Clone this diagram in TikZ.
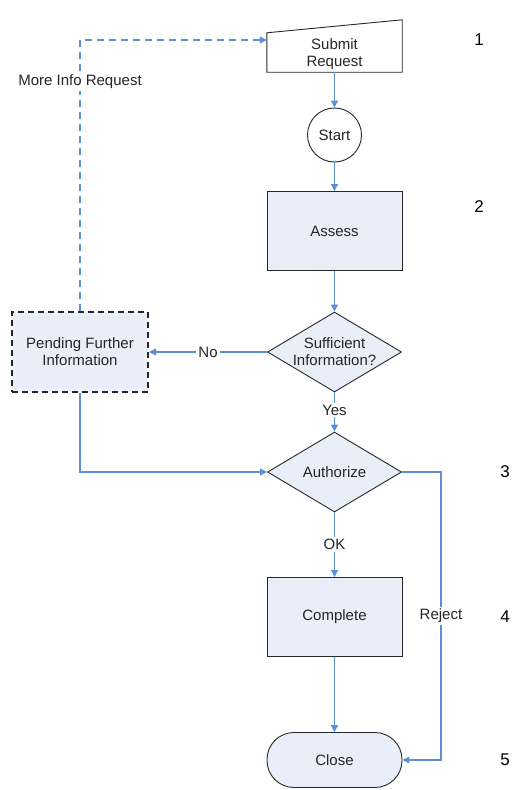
\documentclass[tikz,border=0pt]{standalone}
\usepackage{fontspec}
\setmainfont{Liberation Sans}
\usetikzlibrary{arrows.meta,shapes.geometric,calc}
\definecolor{lineblue}{RGB}{91,143,214}
\definecolor{boxfill}{RGB}{233,239,249}
\definecolor{edgegray}{RGB}{40,40,40}
\begin{document}
\begin{tikzpicture}[x=1pt,y=-1pt,
  every node/.style={font=\fontsize{15}{17}\selectfont, text=black!85, align=center},
  procbox/.style={draw=edgegray, fill=boxfill, line width=0.9pt, minimum width=135pt, minimum height=79pt},
  decision/.style={diamond, draw=edgegray, fill=boxfill, line width=0.9pt, minimum width=134pt, minimum height=80pt, inner sep=0pt},
  conn/.style={draw=lineblue, line width=1.1pt, -{Triangle[length=7pt,width=7pt]}},
  lbl/.style={fill=white, inner sep=2pt},
  stepnum/.style={font=\fontsize{17}{20}\selectfont, text=black}
]
\useasboundingbox (0,0) rectangle (527,790);
% Submit request (manual input)
\node[minimum width=135pt, minimum height=39pt, inner sep=0pt] (submit) at (334.5,52.5) {};
\draw[edgegray, line width=0.9pt, fill=white] (submit.south west) -- (submit.north west) -- ($(submit.north east)+(0,-13)$) -- (submit.south east) -- cycle;
\node (submittext) at (334.5,54) {Submit\\Request};
% Start
\node[circle, draw=edgegray, line width=0.9pt, fill=white, minimum size=54pt, inner sep=0pt] (start) at (334.5,135) {Start};
% Assess
\node[procbox] (assess) at (334.5,231) {Assess};
% Sufficient
\node[decision] (suff) at (334.5,352) {};
\node (sufftext) at (334.5,352) {Sufficient\\Information?};
% Pending
\node[draw=black!85, fill=boxfill, line width=2pt, dash pattern=on 6pt off 4pt, minimum width=136pt, minimum height=80pt] (pend) at (80,352) {Pending Further\\Information};
% Authorize
\node[decision] (auth) at (334.5,472) {};
\node (authtext) at (334.5,472) {Authorize};
% Complete
\node[procbox] (comp) at (334.5,617) {Complete};
% Close
\node[draw=edgegray, fill=boxfill, line width=0.9pt, minimum width=135pt, minimum height=55pt, rounded corners=27pt] (close) at (334.5,760) {Close};

% coordinates
\coordinate (mtop) at (80,40);
\coordinate (pbot) at (80,472);
\coordinate (rtop) at (441,472);
\coordinate (rbot) at (441,760);

% connectors
\draw[conn] (submit.south) -- (start.north);
\draw[conn] (start.south) -- (assess.north);
\draw[conn] (assess.south) -- (suff.north);
\draw[conn] (suff.west) -- node[lbl, pos=0.5] {No} (pend.east);
\draw[conn] (suff.south) -- node[lbl, pos=0.45] {Yes} (auth.north);
\draw[conn] (auth.south) -- node[lbl, pos=0.5] {OK} (comp.north);
\draw[conn] (comp.south) -- (close.north);
\draw[conn] (pend.south) -- (pbot) -- (auth.west);
\draw[conn] (auth.east) -- (rtop) -- node[lbl, pos=0.5] {Reject} (rbot) -- (close.east);
\draw[conn, line width=1.6pt, dash pattern=on 7pt off 5pt] (pend.north) -- node[lbl, pos=0.845] {More Info Request} (mtop) -- ($(submit.west)+(0,-12.5)$);

% step numbers
\node[stepnum] (n1) at (479,40) {1};
\node[stepnum] (n2) at (479,207) {2};
\node[stepnum] (n3) at (505,472) {3};
\node[stepnum] (n4) at (505,617) {4};
\node[stepnum] (n5) at (505,760) {5};
\end{tikzpicture}
\end{document}
